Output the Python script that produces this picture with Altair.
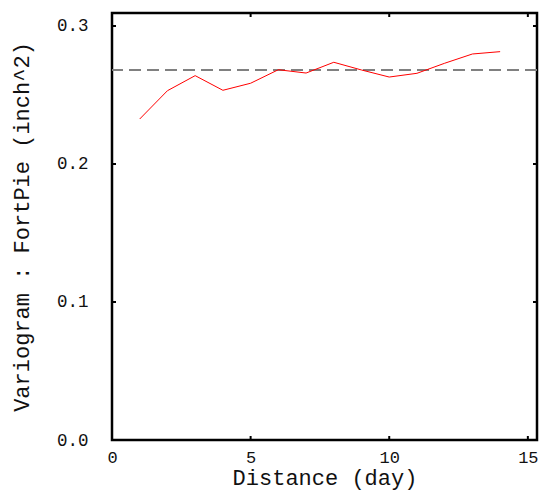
import altair as alt
import pandas as pd

lags = [1, 2, 3, 4, 5, 6, 7, 8, 9, 10, 11, 12, 13, 14]
gamma = [0.2326, 0.2531, 0.2640, 0.2534, 0.2585, 0.2683, 0.2659, 0.2737,
         0.2681, 0.2630, 0.2657, 0.2730, 0.2797, 0.2814]
sill = [0.2681]
x_ticks = [0, 5, 10, 15]
y_ticks = [0.0, 0.1, 0.2, 0.3]

df = pd.DataFrame({"lag": lags, "gamma": gamma})
sill_df = pd.DataFrame({"sill": sill})
xt_df = pd.DataFrame({"t": x_ticks})
yt_df = pd.DataFrame({"t": y_ticks})

FONT = "Liberation Mono"
W, H = 425, 427
xs = alt.Scale(domain=[0, 15.33], nice=False, zero=False)
ys = alt.Scale(domain=[0, 0.3094], nice=False, zero=False)

xaxis = alt.Axis(values=x_ticks, format="d", ticks=False, domain=False, grid=False,
                 labelFlush=False, labelOverlap=False,
                 labelFont=FONT, labelFontSize=17, labelColor="#111",
                 labelPadding=9, title="Distance (day)", titleFont=FONT,
                 titleFontSize=22, titleFontWeight="normal", titleColor="#111",
                 titlePadding=2)
yaxis = alt.Axis(values=y_ticks, format=".1f", ticks=False, domain=False, grid=False,
                 labelFlush=False, labelOverlap=False,
                 labelFont=FONT, labelFontSize=17.5, labelColor="#111",
                 labelPadding=24, title="Variogram : FortPie (inch^2)", titleFont=FONT,
                 titleFontSize=22, titleFontWeight="normal", titleColor="#111",
                 titlePadding=23)

line = alt.Chart(df).mark_line(color="#ff0000", strokeWidth=1).encode(
    x=alt.X("lag:Q", scale=xs, axis=xaxis),
    y=alt.Y("gamma:Q", scale=ys, axis=yaxis),
)

sill_rule = alt.Chart(sill_df).mark_rule(color="#808080", strokeWidth=2,
                                         strokeDash=[12, 6]).encode(
    y=alt.Y("sill:Q", scale=ys)
)

tick_len = 4
xt_bottom = alt.Chart(xt_df).mark_rule(color="black", strokeWidth=2).encode(
    x=alt.X("t:Q", scale=xs), y=alt.value(H), y2=alt.value(H - tick_len))
xt_top = alt.Chart(xt_df).mark_rule(color="black", strokeWidth=2).encode(
    x=alt.X("t:Q", scale=xs), y=alt.value(0), y2=alt.value(tick_len))
yt_left = alt.Chart(yt_df).mark_rule(color="black", strokeWidth=2).encode(
    y=alt.Y("t:Q", scale=ys), x=alt.value(0), x2=alt.value(tick_len))
yt_right = alt.Chart(yt_df).mark_rule(color="black", strokeWidth=2).encode(
    y=alt.Y("t:Q", scale=ys), x=alt.value(W), x2=alt.value(W - tick_len))

chart = alt.layer(sill_rule, line, xt_bottom, xt_top, yt_left, yt_right).properties(
    width=W, height=H, autosize="none",
    padding={"left": 112, "top": 13, "right": 6, "bottom": 50},
    background="white",
).configure_view(stroke="black", strokeWidth=2.5)

chart.save("out.html", embed_options={"renderer": "svg", "actions": False})
